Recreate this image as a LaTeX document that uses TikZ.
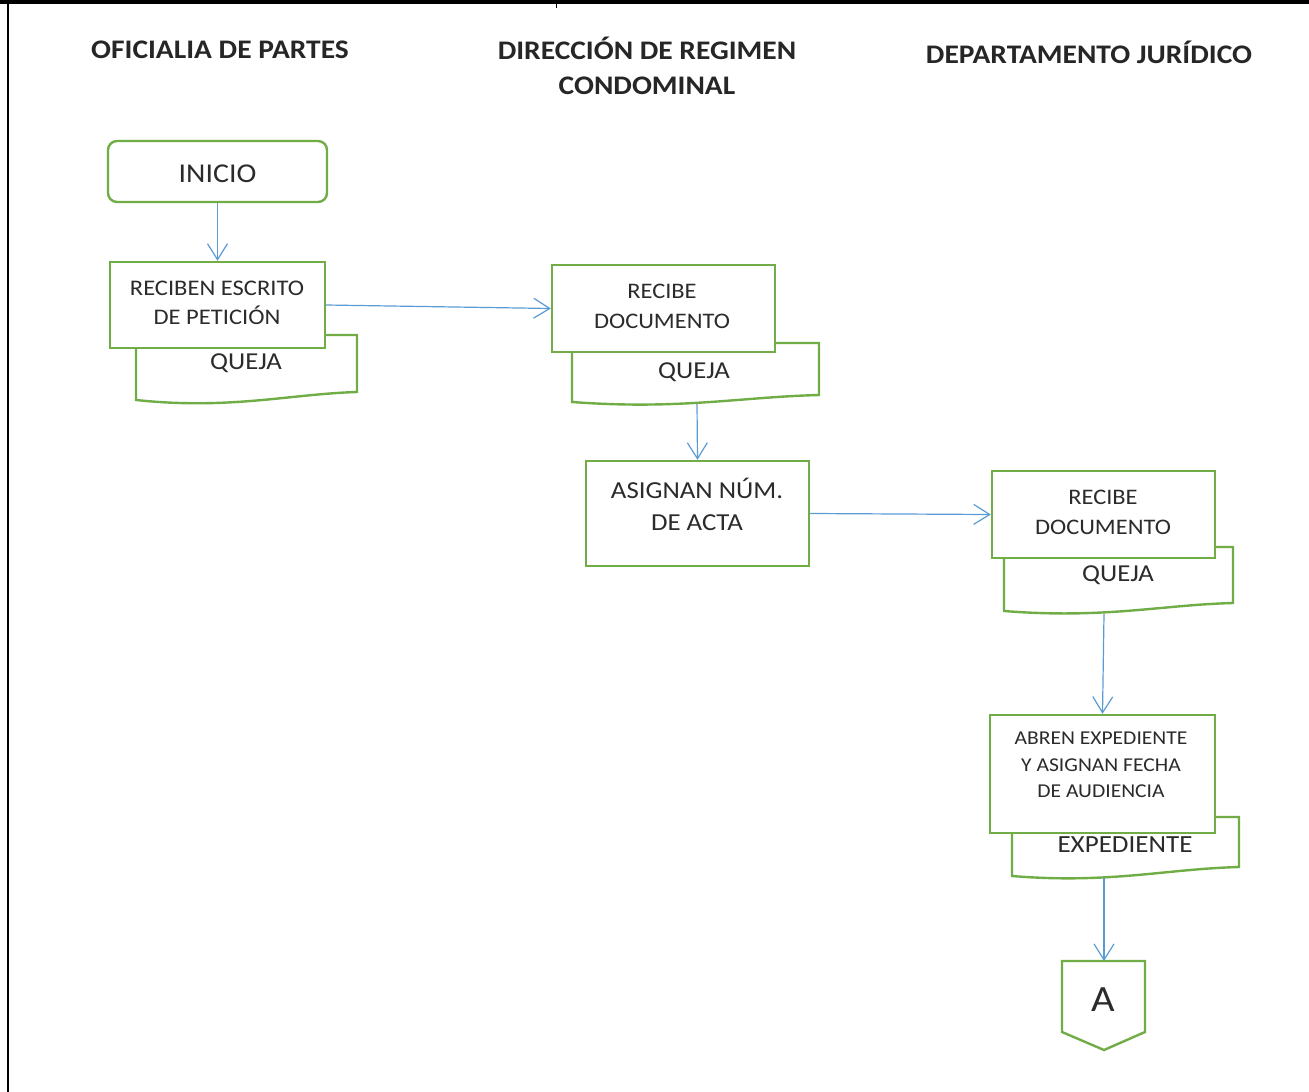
\documentclass[tikz,border=0pt]{standalone}
\usepackage{fontspec}
\setmainfont[FakeStretch=1.1]{Carlito}
\usetikzlibrary{arrows.meta}
\definecolor{boxgreen}{HTML}{70AD47}
\definecolor{arrowblue}{HTML}{5B9BD5}
\definecolor{txt}{HTML}{2B2B2B}
\tikzset{
  pbox/.style={draw=boxgreen, line width=2.4pt, fill=white, inner sep=0pt},
  docshape/.style={draw=boxgreen, line width=2.4pt, fill=white},
  flow/.style={draw=arrowblue, line width=1.2pt, -{Straight Barb[length=16pt,width=20pt,line width=1.2pt]}},
  lbl/.style={text=txt, align=center, inner sep=0pt},
  head/.style={text=black!85, align=center, inner sep=0pt, font=\fontsize{26.8}{35}\selectfont\bfseries},
}
\newcommand{\fs}[2]{\fontsize{#1}{#2}\selectfont}
\begin{document}
\begin{tikzpicture}[x=1pt,y=-1pt]
\useasboundingbox (0,0) rectangle (1309,1092);
% frame
\draw[line width=3.5pt] (0,2) -- (1309,2);
\draw[line width=2.4pt] (8,0) -- (8,1092);
\draw[line width=1pt] (556,0) -- (556,8);
% headers
\node[head] (h1) at (220,50) {OFICIALIA DE PARTES};
\node[head] (h2) at (647,66) {DIRECCIÓN DE REGIMEN\\CONDOMINAL};
\node[head] (h3) at (1089,52) {DEPARTAMENTO JURÍDICO};
% INICIO
\node[pbox, rounded corners=9pt, minimum width=219pt, minimum height=61pt] (inicio) at (217.5,171.5) {};
\node[lbl, font=\fs{27.2}{30}] (inicioT) at (217.5,174) {INICIO};
% doc 1
\draw[docshape] (136,335) -- (357,335) -- (357,392) .. controls (290,394) and (230,410) .. (136,400) -- cycle;
\coordinate (d1b) at (246,403);
\node[lbl, font=\fs{24.3}{25}] (q1) at (246,363) {QUEJA};
% box 1
\node[pbox, minimum width=215pt, minimum height=86pt] (b1) at (217.5,305) {};
\node[lbl, font=\fs{22.3}{29}] (b1T) at (217,303) {RECIBEN ESCRITO\\DE PETICIÓN};
% doc 2
\draw[docshape] (572,343) -- (819,343) -- (819,395) .. controls (740,397) and (680,410) .. (572,402) -- cycle;
\coordinate (d2b) at (697,404);
\node[lbl, font=\fs{24.3}{25}] (q2) at (694,372) {QUEJA};
% box 2
\node[pbox, minimum width=223pt, minimum height=87pt] (b2) at (663.5,308.5) {};
\node[lbl, font=\fs{22.2}{30}] (b2T) at (662,306) {RECIBE\\DOCUMENTO};
% box 3
\node[pbox, minimum width=223pt, minimum height=105pt] (b3) at (697.5,513.5) {};
\node[lbl, font=\fs{24.4}{32}] (b3T) at (697,504) {ASIGNAN NÚM.\\DE ACTA};
% doc 3
\draw[docshape] (1004,547) -- (1233,547) -- (1233,603) .. controls (1160,605) and (1105,619) .. (1004,611) -- cycle;
\coordinate (d3b) at (1104,614);
\node[lbl, font=\fs{24.3}{25}] (q3) at (1118,575) {QUEJA};
% box 4
\node[pbox, minimum width=223pt, minimum height=87pt] (b4) at (1103.5,514.5) {};
\node[lbl, font=\fs{22.2}{30}] (b4T) at (1103,512) {RECIBE\\DOCUMENTO};
% doc 4
\draw[docshape] (1012,817) -- (1239,817) -- (1239,867) .. controls (1165,869) and (1110,884) .. (1012,876) -- cycle;
\coordinate (d4b) at (1104,878);
\node[lbl, font=\fs{24.6}{26}] (q4) at (1125,845) {EXPEDIENTE};
% box 5
\node[pbox, minimum width=225pt, minimum height=118pt] (b5) at (1102.5,774) {};
\node[lbl, font=\fs{19.6}{26.5}] (b5T) at (1101,765) {ABREN EXPEDIENTE\\Y ASIGNAN FECHA\\DE AUDIENCIA};
% off-page connector
\draw[docshape] (1062,961) -- (1145,961) -- (1145,1032) -- (1104,1050) -- (1062,1032) -- cycle;
\coordinate (conTop) at (1104,961);
\node[lbl, font=\fs{37}{38}] (conT) at (1103,1000) {A};
% connectors
\draw[flow] (inicio.south) -- (b1.north);
\draw[flow] (b1.east) -- (b2.west);
\draw[flow] (d2b) -- (b3.north);
\draw[flow] (b3.east) -- (b4.west);
\draw[flow] (d3b) -- (b5.north);
\draw[flow] (d4b) -- (conTop);
\end{tikzpicture}
\end{document}
